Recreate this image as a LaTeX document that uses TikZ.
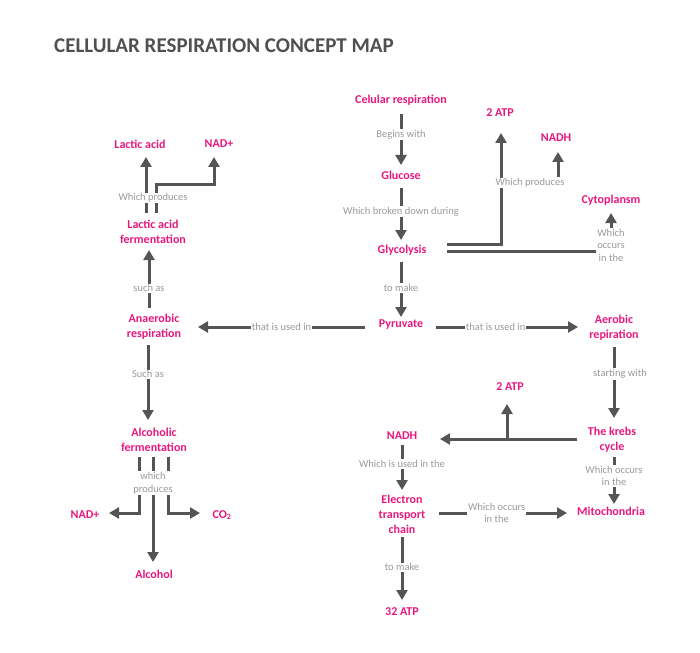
\documentclass[tikz,border=0pt]{standalone}
\usepackage{fontspec}
\setmainfont{Carlito}
\usetikzlibrary{arrows.meta,calc}
\definecolor{pinkc}{HTML}{E8177D}
\definecolor{linec}{HTML}{555555}
\definecolor{labc}{HTML}{9A9A9A}
\definecolor{titlec}{HTML}{505050}
\begin{document}
\begin{tikzpicture}[x=1pt,y=-1pt,
 concept/.style={text=pinkc,font=\fontsize{12}{15}\selectfont\bfseries,align=center,inner sep=0pt},
 lab/.style={text=labc,font=\fontsize{10.5}{12.5}\selectfont,align=center,fill=white,inner sep=1pt},
 conn/.style={draw=linec,line width=3pt},
 arr/.style={conn,-{Triangle[width=11pt,length=10pt]}}]
\useasboundingbox (0,0) rectangle (700,652);
\node[font=\fontsize{21}{25}\selectfont\bfseries,text=titlec,anchor=west,inner sep=0pt] (title) at (54,46) {CELLULAR RESPIRATION CONCEPT MAP};

% concepts
\node[concept] (cr) at (401,100) {Celular respiration};
\node[concept] (glu) at (401,175) {Glucose};
\node[concept] (gly) at (402,250) {Glycolysis};
\node[concept] (pyr) at (401,325) {Pyruvate};
\node[concept] (atpA) at (500,113) {2 ATP};
\node[concept] (nadhA) at (556,138) {NADH};
\node[concept] (cyto) at (611,200) {Cytoplansm};
\node[concept] (ana) at (154,327) {Anaerobic\\respiration};
\node[concept] (lact) at (153,232) {Lactic acid\\fermentation};
\node[concept] (lacid) at (140,144) {Lactic acid};
\node[concept] (nadL) at (219,144) {NAD+};
\node[concept] (alc) at (154,440) {Alcoholic\\fermentation};
\node[concept] (nadL2) at (85,515) {NAD+};
\node[concept] (co2) at (222,515) {CO\textsubscript{2}};
\node[concept] (alcohol) at (154,574) {Alcohol};
\node[concept] (aer) at (614,328) {Aerobic\\repiration};
\node[concept] (krebs) at (612,440) {The krebs\\cycle};
\node[concept] (atpB) at (510,387) {2 ATP};
\node[concept] (nadhB) at (402,436) {NADH};
\node[concept] (etc) at (402,514) {Electron\\transport\\chain};
\node[concept] (mito) at (611,511) {Mitochondria};
\node[concept] (atp32) at (402,612) {32 ATP};

% central chain
\draw[arr] ($(cr)+(0,14)$) -- node[lab,pos=0.4] {Begins with} ($(glu)+(0,-10)$);
\draw[arr] ($(glu)+(0,13)$) -- node[lab,pos=0.46] {Which broken down during} ($(gly)+(-1,-10)$);
\draw[arr] ($(gly)+(-1,12)$) -- node[lab,pos=0.47] {to make} ($(pyr)+(0,-8)$);
\draw[arr] ($(pyr)+(-36,2)$) -- node[lab,pos=0.5] {that is used in} ($(ana)+(44,0)$);
\draw[arr] ($(pyr)+(35,2)$) -- node[lab,pos=0.42] {that is used in} ($(aer)+(-36,-1)$);

% glycolysis branches
\draw[arr] ($(gly)+(45,-6)$) -| ($(atpA)+(1,20)$);
\draw[arr] ($(gly)+(45,1)$) -| ($(cyto)+(0,13)$);
\node[lab] (wp1) at (530,183) {Which produces};
\node[lab] (wo1) at (611,245) {Which\\occurs\\in the};
\draw[arr] ($(wp1.north)+(28,0)$) -- ($(nadhA)+(2,14)$);

% anaerobic side
\draw[arr] ($(ana)+(-5,-19)$) -- node[lab,pos=0.34] {such as} ($(lact)+(-4,18)$);
\draw[arr] ($(lact)+(-7,-19)$) -- ($(lacid)+(6,13)$);
\draw[arr] ($(lact)+(3,-19)$) |- ($(nadL)+(-5,41)$) -- ($(nadL)+(-5,13)$);
\node[lab] (wp2) at (153,198) {Which produces};
\draw[arr] ($(ana)+(-6,18)$) -- node[lab,pos=0.39] {Such as} ($(alc)+(-6,-20)$);
\draw[arr] ($(alc)+(-15,17)$) |- ($(nadL2)+(24,-2)$);
\draw[arr] ($(alc)+(-1,17)$) -- ($(alcohol)+(-1,-12)$);
\draw[arr] ($(alc)+(14,17)$) |- ($(co2)+(-22,-2)$);
\node[lab] (wp3) at (153,483) {which\\produces};

% aerobic side
\draw[arr] ($(aer)+(0,19)$) -- node[lab,pos=0.38,xshift=6pt] {starting with} ($(krebs)+(2,-22)$);
\draw[arr] ($(krebs)+(-35,-1)$) -- ($(nadhB)+(38,3)$);
\draw[arr] ($(krebs)+(-105,-1)$) -- ($(atpB)+(-3,17)$);
\draw[arr] ($(nadhB)+(0,9)$) -- node[lab,pos=0.42] {Which is used in the} ($(etc)+(0,-24)$);
\draw[arr] ($(etc)+(37,-1)$) -- node[lab,pos=0.45] {Which occurs\\in the} ($(mito)+(-44,2)$);
\draw[arr] ($(krebs)+(2,17)$) -- node[lab,pos=0.4] {Which occurs\\in the} ($(mito)+(3,-7)$);
\draw[arr] ($(etc)+(0,23)$) -- node[lab,pos=0.48] {to make} ($(atp32)+(0,-12)$);
\end{tikzpicture}
\end{document}
